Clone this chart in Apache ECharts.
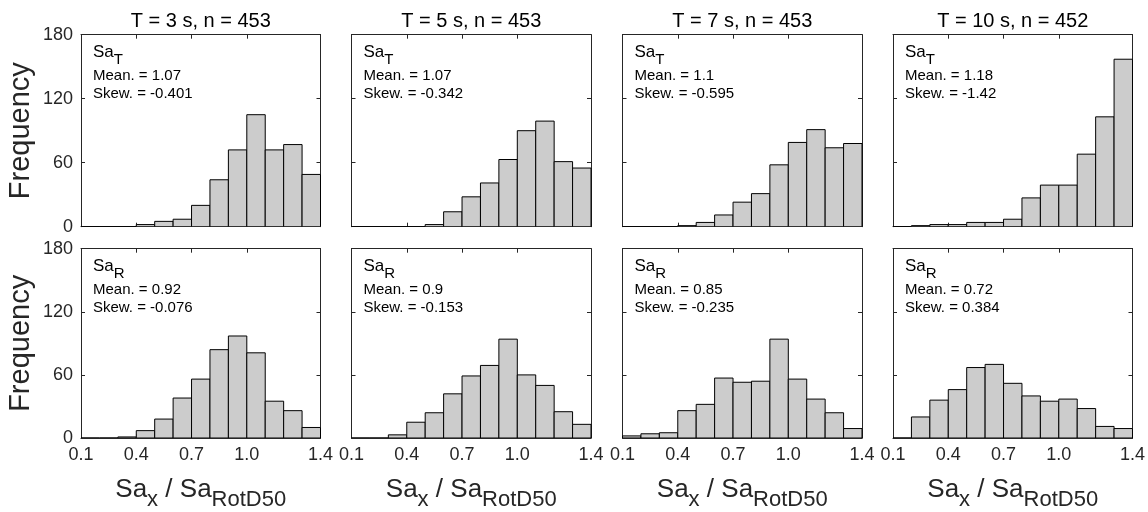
<!DOCTYPE html>
<html>
<head>
<meta charset="utf-8">
<script src="https://cdn.jsdelivr.net/npm/echarts@6/dist/echarts.min.js"></script>
<style>
  html, body { margin: 0; padding: 0; background: #ffffff; }
  #main { width: 1148px; height: 512px; }
</style>
</head>
<body>
<div id="main"></div>
<script>
// ---------------- data ----------------
const binLeft  = [0.1, 0.2, 0.3, 0.4, 0.5, 0.6, 0.7, 0.8, 0.9, 1.0, 1.1, 1.2, 1.3];
const binRight = [0.2, 0.3, 0.4, 0.5, 0.6, 0.7, 0.8, 0.9, 1.0, 1.1, 1.2, 1.3, 1.4];

const panelTitles = ['T = 3 s, n = 453', 'T = 5 s, n = 453', 'T = 7 s, n = 453', 'T = 10 s, n = 452'];

const countT3  = [0, 0, 0, 2, 5, 7, 20, 44, 72, 105, 72, 77, 49];
const countT5  = [0, 0, 0, 0, 2, 14, 28, 41, 63, 90, 99, 61, 55];
const countT7  = [0, 0, 0, 1, 4, 11, 23, 31, 58, 79, 91, 74, 78];
const countT10 = [0, 1, 2, 2, 4, 4, 7, 27, 39, 39, 68, 103, 157];

const countR3  = [0, 0, 1, 7, 18, 38, 56, 84, 97, 81, 35, 26, 10];
const countR5  = [0, 0, 3, 15, 24, 42, 59, 69, 94, 60, 50, 25, 13];
const countR7  = [2, 4, 5, 26, 32, 57, 53, 54, 94, 56, 37, 24, 9];
const countR10 = [0, 20, 36, 46, 67, 70, 52, 40, 35, 37, 28, 11, 9];

const meanT = ['1.07', '1.07', '1.1', '1.18'];
const skewT = ['-0.401', '-0.342', '-0.595', '-1.42'];
const meanR = ['0.92', '0.9', '0.85', '0.72'];
const skewR = ['-0.076', '-0.153', '-0.235', '0.384'];

const xTicks = [0.1, 0.4, 0.7, 1.0, 1.4];
const yTicks = [0, 60, 120, 180];

// ---------------- layout ----------------
const FONT = 'Liberation Sans, Arial, Helvetica, sans-serif';
const AXC = '#262626';
const colLeft = [81, 351.5, 622.5, 893];
const panelW = 239.5;
const rowTop = [34.7, 248.7];
const panelH = 192;

const rows = [
  { counts: [countT3, countT5, countT7, countT10], sub: 'T', mean: meanT, skew: skewT },
  { counts: [countR3, countR5, countR7, countR10], sub: 'R', mean: meanR, skew: skewR }
];

const grid = [], xAxis = [], yAxis = [], series = [], title = [];

function renderBar(params, api) {
  const a = api.coord([api.value(0), api.value(2)]);
  const b = api.coord([api.value(1), 0]);
  return {
    type: 'rect',
    shape: { x: a[0], y: a[1], width: b[0] - a[0], height: b[1] - a[1] },
    style: { fill: '#cccccc', stroke: '#000000', lineWidth: 1 }
  };
}

rows.forEach((row, r) => {
  for (let c = 0; c < 4; c++) {
    const g = grid.length;
    grid.push({ left: colLeft[c], top: rowTop[r], width: panelW, height: panelH, containLabel: false });

    const xBase = {
      type: 'value', gridIndex: g, min: 0.1, max: 1.4,
      splitLine: { show: false },
      axisLine: { show: true, onZero: false, lineStyle: { color: AXC, width: 1 } },
      axisTick: { show: true, inside: true, length: 4, customValues: xTicks, lineStyle: { color: AXC } }
    };
    const xb = Object.assign({}, xBase, {
      position: 'bottom',
      axisLabel: {
        show: r === 1, customValues: xTicks, showMinLabel: true, showMaxLabel: true,
        formatter: v => v.toFixed(1), fontSize: 18, color: AXC, fontFamily: FONT, margin: 8
      }
    });
    if (r === 1) {
      xb.name = '{m|Sa}{s|x}{m| / Sa}{s|RotD50}';
      xb.nameLocation = 'middle';
      xb.nameGap = 39;
      xb.nameTextStyle = {
        fontFamily: FONT, color: AXC,
        rich: {
          m: { fontSize: 26, lineHeight: 40, verticalAlign: 'top', fontFamily: FONT, color: AXC },
          s: { fontSize: 22, lineHeight: 40, padding: [12, 0, 0, 0], verticalAlign: 'top', fontFamily: FONT, color: AXC }
        }
      };
    }
    xAxis.push(xb);
    const xt = Object.assign({}, xBase, {
      position: 'top',
      axisLabel: { show: false }
    });
    if (r === 0) {
      xt.name = panelTitles[c];
      xt.nameLocation = 'middle';
      xt.nameGap = 3;
      xt.nameTextStyle = { fontSize: 20, color: '#000000', fontFamily: FONT };
    }
    xAxis.push(xt);

    const yBase = {
      type: 'value', gridIndex: g, min: 0, max: 180, interval: 60,
      splitLine: { show: false },
      axisLine: { show: true, onZero: false, lineStyle: { color: AXC, width: 1 } },
      axisTick: { show: true, inside: true, length: 4, lineStyle: { color: AXC } }
    };
    const yl = Object.assign({}, yBase, {
      position: 'left',
      axisLabel: { show: c === 0, fontSize: 18, color: AXC, fontFamily: FONT, margin: 8 }
    });
    if (c === 0) {
      yl.name = 'Frequency';
      yl.nameLocation = 'middle';
      yl.nameRotate = 90;
      yl.nameGap = 46;
      yl.nameTextStyle = { fontSize: 29, color: AXC, fontFamily: FONT };
    }
    yAxis.push(yl);
    yAxis.push(Object.assign({}, yBase, { position: 'right', axisLabel: { show: false } }));

    const counts = row.counts[c];
    series.push({
      type: 'custom',
      xAxisIndex: 2 * g,
      yAxisIndex: 2 * g,
      renderItem: renderBar,
      encode: { x: [0, 1], y: 2 },
      clip: true,
      data: binLeft.map((b, i) => [b, binRight[i], counts[i]])
    });

    title.push({
      left: colLeft[c] + 12,
      top: rowTop[r] + 9,
      padding: 0,
      text: '{sa|Sa}{sub|' + row.sub + '}\n{t|Mean. = ' + row.mean[c] + '}\n{t|Skew. = ' + row.skew[c] + '}',
      textStyle: {
        fontFamily: FONT, color: '#000000', fontWeight: 'normal',
        rich: {
          sa: { fontSize: 17, lineHeight: 23, verticalAlign: 'top', fontWeight: 'normal', fontFamily: FONT, color: '#000000' },
          sub: { fontSize: 15, lineHeight: 23, padding: [9, 0, 0, 0], verticalAlign: 'top', fontWeight: 'normal', fontFamily: FONT, color: '#000000' },
          t: { fontSize: 15, lineHeight: 18, fontWeight: 'normal', fontFamily: FONT, color: '#000000' }
        }
      }
    });
  }
});

const chart = echarts.init(document.getElementById('main'), null, { renderer: 'canvas' });
chart.setOption({
  backgroundColor: '#ffffff',
  animation: false,
  title: title,
  grid: grid,
  xAxis: xAxis,
  yAxis: yAxis,
  series: series
});
</script>
</body>
</html>
